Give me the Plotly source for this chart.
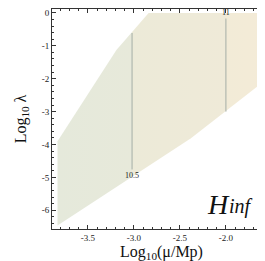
import plotly.graph_objects as go

# Region boundary (Log10(mu/Mp), Log10 lambda)
region_x = [-3.83, -3.83, -3.19, -2.84, -1.54, -1.54, -2.38, -3.83]
region_y = [-6.46, -3.90, -1.13, 0.0, 0.0, -1.98, -3.81, -6.46]

# Contour lines of Hinf
contour_x = [-3.02, -2.0]
contour_top = [-0.61, -0.17]
contour_bottom = [-4.76, -3.0]
contour_labels = ["10.5", "11"]
contour_label_y = [-4.93, 0.0]

x_ticks = [-3.5, -3.0, -2.5, -2.0]
x_ticklabels = ["-3.5", "-3.0", "-2.5", "-2.0"]
y_ticks = [0, -1, -2, -3, -4, -5, -6]
y_ticklabels = ["0", "-1", "-2", "-3", "-4", "-5", "-6"]

green = "rgb(229,233,219)"
orange = "rgb(244,235,215)"
xmin, xmax = min(region_x), max(region_x)
t1 = (contour_x[0] - xmin) / (xmax - xmin)
t2 = (contour_x[1] - xmin) / (xmax - xmin)

fig = go.Figure()
fig.add_trace(go.Scatter(
    x=region_x, y=region_y, mode="lines", fill="toself",
    line=dict(width=0, color="rgba(0,0,0,0)"),
    fillgradient=dict(type="horizontal", start=xmin, stop=xmax,
                      colorscale=[[0, green], [t1, "rgb(231,233,218)"],
                                  [t1 + 0.001, "rgb(236,234,216)"],
                                  [t2, "rgb(239,234,216)"],
                                  [t2 + 0.001, "rgb(242,235,215)"],
                                  [1, orange]]),
    hoverinfo="skip", showlegend=False))

for cx, ct, cb in zip(contour_x, contour_top, contour_bottom):
    fig.add_trace(go.Scatter(x=[cx, cx], y=[ct, cb], mode="lines",
                             line=dict(color="rgb(165,174,166)", width=1),
                             showlegend=False, hoverinfo="skip"))

for cx, cy, lab in zip(contour_x, contour_label_y, contour_labels):
    fig.add_annotation(x=cx, y=cy, text=lab, showarrow=False,
                       font=dict(family="Liberation Serif", size=8, color="#222"),
                       xanchor="center", yanchor="middle")

fig.add_annotation(x=-1.93, y=-5.82, xanchor="right", yanchor="middle",
                   text="<i>H</i>", showarrow=False,
                   font=dict(family="Liberation Serif", size=28, color="#111"))
fig.add_annotation(x=-1.985, y=-5.90, xanchor="left", yanchor="middle",
                   text="<i>inf</i>", showarrow=False,
                   font=dict(family="Liberation Serif", size=20, color="#111"))

axis_common = dict(showgrid=False, zeroline=False, showline=True,
                   linecolor="#333", linewidth=1, mirror="ticks",
                   ticks="inside", ticklen=4, tickcolor="#333",
                   tickfont=dict(family="Liberation Serif", size=9, color="#222"))

fig.update_xaxes(range=[-3.89, -1.51], tickvals=x_ticks, ticktext=x_ticklabels,
                 minor=dict(ticks="inside", dtick=0.1, ticklen=2, tickcolor="#333"),
                 title=dict(text="Log<sub>10</sub>(μ/Mp)", standoff=2,
                            font=dict(family="Liberation Serif", size=16, color="#111")),
                 **axis_common)
fig.update_yaxes(range=[-6.57, 0.12], tickvals=y_ticks, ticktext=y_ticklabels,
                 minor=dict(ticks="inside", dtick=0.2, ticklen=2, tickcolor="#333"),
                 title=dict(text="Log<sub>10</sub> λ", standoff=11,
                            font=dict(family="Liberation Serif", size=16, color="#111")),
                 **axis_common)

fig.update_layout(width=265, height=261, margin=dict(l=44, r=2, t=1, b=40),
                  plot_bgcolor="white", paper_bgcolor="white")

fig.write_html("out.html")
